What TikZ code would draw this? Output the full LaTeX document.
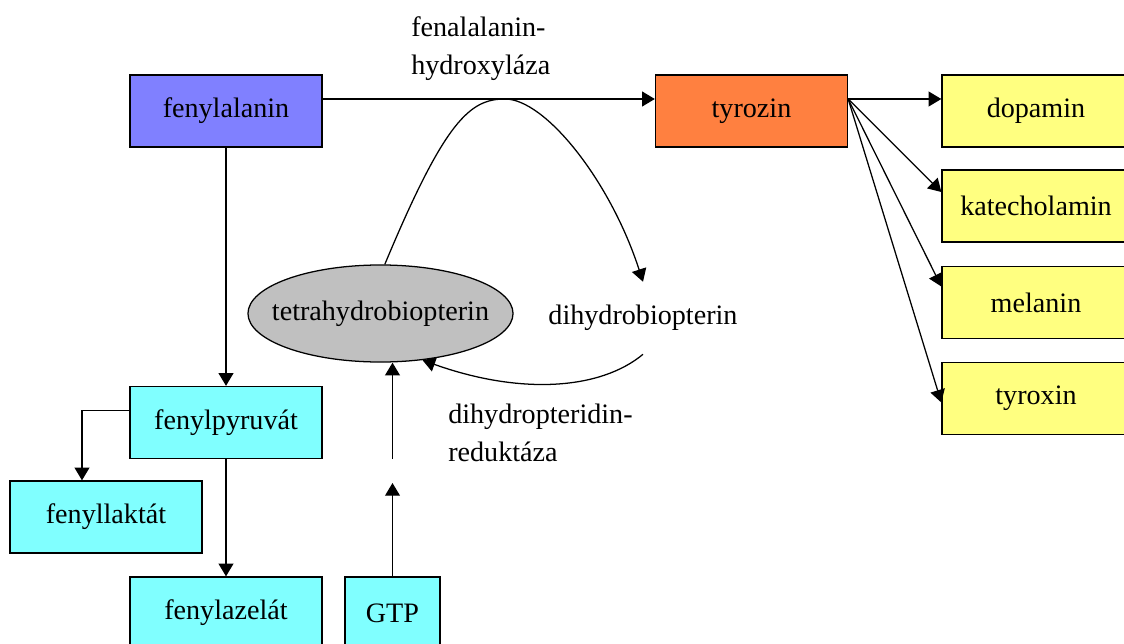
\documentclass[tikz,border=0pt]{standalone}
\usepackage{fontspec}
\setmainfont{Liberation Serif}
\usetikzlibrary{arrows.meta,shapes.geometric}

\definecolor{fenblue}{RGB}{128,128,255}
\definecolor{tyrorange}{RGB}{255,128,64}
\definecolor{prodyellow}{RGB}{255,255,128}
\definecolor{sidecyan}{RGB}{128,255,255}
\definecolor{cofgray}{RGB}{192,192,192}

\begin{document}
\begin{tikzpicture}[x=0.025cm, y=-0.025cm, >={Triangle[length=9pt,width=10.5pt]}]
        \tikzset{box/.style={draw, line width=0.9pt, minimum width=4.8cm, minimum height=1.8cm, inner sep=0pt, font=\fontsize{20}{24}\selectfont},
                 conn/.style={->, line width=0.9pt},
                 lbl/.style={align=left, inner sep=0pt, font=\fontsize{20}{27}\selectfont}}
        \useasboundingbox (0,0) rectangle (1124,644);

        \node[box, fill=fenblue] (fen) at (226,111) {fenylalanin};
        \node[box, fill=tyrorange] (tyr) at (751.5,111) {tyrozin};
        \node[box, fill=prodyellow, minimum width=4.7cm] (dop) at (1036,111) {dopamin};
        \node[box, fill=prodyellow, minimum width=4.7cm] (kat) at (1036,206) {katecholamin};
        \node[box, fill=prodyellow, minimum width=4.7cm] (mel) at (1036,302.5) {melanin};
        \node[box, fill=prodyellow, minimum width=4.7cm] (tyx) at (1036,398.5) {tyroxin};

        \node[box, fill=sidecyan] (pyr) at (226,422.5) {fenylpyruvát};
        \node[box, fill=sidecyan] (lak) at (106,517) {fenyllaktát};
        \node[box, fill=sidecyan] (aze) at (226,613) {fenylazelát};
        \node[box, fill=sidecyan, minimum width=2.375cm] (gtp) at (392.5,613) {GTP};

        \node[draw, ellipse, fill=cofgray, line width=0.9pt, minimum width=6.625cm, minimum height=2.425cm,
              inner xsep=-0.45cm, inner ysep=0pt, font=\fontsize{20}{24}\selectfont] (thb) at (380.5,313.5) {tetrahydrobiopterin};
        \node[inner sep=0pt, minimum height=1.8cm, font=\fontsize{20}{24}\selectfont] (dhb) at (643,318) {dihydrobiopterin};

        \node[lbl, anchor=west] (hyd) at (411,49) {fenalalanin-\\hydroxyláza};
        \node[lbl, anchor=west] (red) at (448,433) {dihydropteridin-\\reduktáza};

        \coordinate (g1) at (392.5,483);
        \coordinate (g2) at (392.5,459);

        % main path
        \draw[conn] ([yshift=3mm]fen.east) -- ([yshift=3mm]tyr.west);
        \draw[conn] ([yshift=3mm]tyr.east) -- ([yshift=3mm]dop.west);
        \draw[conn] ([yshift=3mm]tyr.east) -- ([yshift=3.5mm]kat.west);
        \draw[conn] ([yshift=3mm]tyr.east) -- ([yshift=4mm]mel.west);
        \draw[conn] ([yshift=3mm]tyr.east) -- ([yshift=-1mm]tyx.west);

        % side path
        \draw[conn] (fen.south) -- (pyr.north);
        \draw[conn] ([yshift=3mm]pyr.west) -| ([xshift=-6mm]lak.north);
        \draw[conn] (pyr.south) -- (aze.north);

        % cofactor cycle
        \draw[conn] (thb.85) .. controls (445,120) and (470,99) .. (505,99)
                    .. controls (545,99) and (610,180) .. (dhb.north);
        \draw[conn] (dhb.south) .. controls (600,390) and (520,395) .. (thb.-48);
        \draw[conn] (gtp.north) -- (g1);
        \draw[conn] (g2) -- (g2 |- thb.south);
\end{tikzpicture}
\end{document}
